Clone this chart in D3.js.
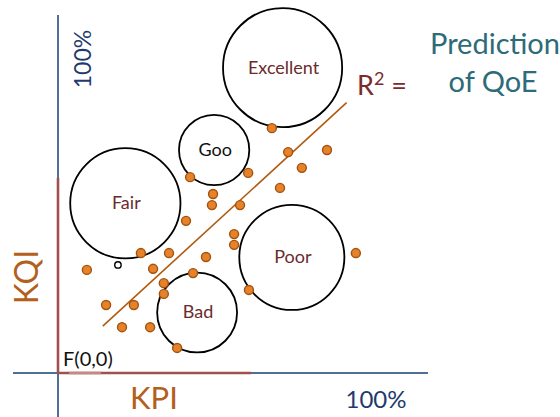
<!DOCTYPE html>
<html>
<head>
<meta charset="utf-8">
<script src="https://cdn.jsdelivr.net/npm/d3@7/dist/d3.min.js"></script>
<style>
  html, body { margin: 0; padding: 0; background: #fff; }
  svg { display: block; }
  text { font-family: Lato, "Open Sans", sans-serif; }
</style>
</head>
<body>
<svg id="chart" width="560" height="417"></svg>
<script>
// ---- data (percent of KPI / KQI) ----
const pointKPI = [57.8, 62.2, 72.7, 35.7, 51.4, 65.9, 41.9, 41.6, 49.2, 60.0, 34.6, 47.6, 47.6, 22.4,
                  30.0, 40.0, 80.5, 7.8, 25.7, 36.5, 28.6, 28.6, 51.6, 13.0, 20.5, 17.3, 24.9, 32.2];
const pointKQI = [68.4, 61.7, 62.3, 54.7, 55.9, 57.3, 50.0, 46.9, 46.9, 51.7, 42.5, 38.8, 35.8, 33.5,
                  33.5, 32.4, 33.5, 28.8, 29.1, 27.9, 25.1, 22.1, 23.2, 19.0, 19.0, 12.8, 12.8, 7.0];
const hollowKPI = [16.2];
const hollowKQI = [30.2];

const classNames  = ["Excellent", "Goo", "Fair", "Poor", "Bad"];
const classKPI    = [60.7, 42.2, 18.2, 63.2, 37.6];
const classKQI    = [85.3, 62.3, 47.4, 32.3, 16.9];
const classRadius = [16.1, 9.5, 14.9, 14.2, 10.8];

const trendKPI = [12.1, 78.0];
const trendKQI = [13.1, 75.5];

const axisTickLabels = ["100%", "100%"];

// ---- scales ----
const svg = d3.select("#chart");
const x = d3.scaleLinear().domain([0, 100]).range([58, 428]);
const y = d3.scaleLinear().domain([0, 100]).range([373, 15]);
const rScale = v => x(v) - x(0);

const blue = "#4f6f95", red = "#a0504f";

// axes
svg.append("line").attr("x1", x(0)).attr("x2", x(0)).attr("y1", y(100)).attr("y2", 417)
  .attr("stroke", blue).attr("stroke-width", 2);
svg.append("line").attr("x1", 13).attr("x2", x(100)).attr("y1", y(0)).attr("y2", y(0))
  .attr("stroke", blue).attr("stroke-width", 2);
svg.append("line").attr("x1", x(0)).attr("x2", x(0)).attr("y1", y(54.5)).attr("y2", y(0))
  .attr("stroke", red).attr("stroke-width", 2.6);
svg.append("line").attr("x1", x(0)).attr("x2", x(52.2)).attr("y1", y(0)).attr("y2", y(0))
  .attr("stroke", red).attr("stroke-width", 2.6);
svg.append("line").attr("x1", x(3)).attr("x2", x(11.6)).attr("y1", y(0)).attr("y2", y(0))
  .attr("stroke", "#c98888").attr("stroke-width", 2.6);

// class bubbles
const classes = classNames.map((n, i) => ({ n, kpi: classKPI[i], kqi: classKQI[i], r: classRadius[i] }));
svg.selectAll("circle.cls").data(classes).join("circle").attr("class", "cls")
  .attr("cx", d => x(d.kpi)).attr("cy", d => y(d.kqi)).attr("r", d => rScale(d.r))
  .attr("fill", "none").attr("stroke", "#000").attr("stroke-width", 1.8);
svg.selectAll("text.cls").data(classes).join("text").attr("class", "cls")
  .attr("x", d => x(d.kpi) + 1).attr("y", d => y(d.kqi) + 6)
  .attr("text-anchor", "middle").attr("font-size", 18)
  .attr("fill", d => d.n === "Goo" ? "#111" : "#6b2b2b")
  .text(d => d.n);

// trend line
svg.append("line")
  .attr("x1", x(trendKPI[0])).attr("y1", y(trendKQI[0]))
  .attr("x2", x(trendKPI[1])).attr("y2", y(trendKQI[1]))
  .attr("stroke", "#b05a10").attr("stroke-width", 1.6);

// points
const pts = pointKPI.map((v, i) => ({ kpi: v, kqi: pointKQI[i] }));
svg.selectAll("circle.pt").data(pts).join("circle").attr("class", "pt")
  .attr("cx", d => x(d.kpi)).attr("cy", d => y(d.kqi)).attr("r", 4.5)
  .attr("fill", "#e5822a").attr("stroke", "#a3530f").attr("stroke-width", 1.4);
svg.selectAll("circle.hollow").data(hollowKPI.map((v, i) => ({ kpi: v, kqi: hollowKQI[i] })))
  .join("circle").attr("class", "hollow")
  .attr("cx", d => x(d.kpi)).attr("cy", d => y(d.kqi)).attr("r", 3.2)
  .attr("fill", "#fff").attr("stroke", "#000").attr("stroke-width", 1.4);

// labels
svg.append("text").attr("transform", `translate(${x(0) + 33},59) rotate(-90)`)
  .attr("text-anchor", "middle").attr("font-size", 23).attr("fill", "#1f3a6e")
  .text(axisTickLabels[1]);
svg.append("text").attr("x", 376).attr("y", 408).attr("text-anchor", "middle")
  .attr("font-size", 24).attr("fill", "#1f3a6e").text(axisTickLabels[0]);

svg.append("text").attr("transform", `translate(38,277) rotate(-90)`)
  .attr("text-anchor", "middle").attr("font-size", 32).attr("fill", "#b3601c").text("KQI");
svg.append("text").attr("x", 154).attr("y", 409).attr("text-anchor", "middle")
  .attr("font-size", 31).attr("fill", "#b3601c").text("KPI");

svg.append("text").attr("x", 63).attr("y", 366).attr("font-size", 20).attr("fill", "#111").text("F(0,0)");

svg.append("text").attr("x", 357).attr("y", 95).attr("font-size", 27).attr("fill", "#7b2b2b")
  .html("R<tspan font-size='18' dy='-10'>2</tspan><tspan dy='10'> =</tspan>");

svg.append("text").attr("x", 495).attr("y", 54).attr("text-anchor", "middle")
  .attr("font-size", 29).attr("fill", "#2e6b78").text("Prediction");
svg.append("text").attr("x", 493).attr("y", 92).attr("text-anchor", "middle")
  .attr("font-size", 29).attr("fill", "#2e6b78").text("of QoE");
</script>
</body>
</html>
